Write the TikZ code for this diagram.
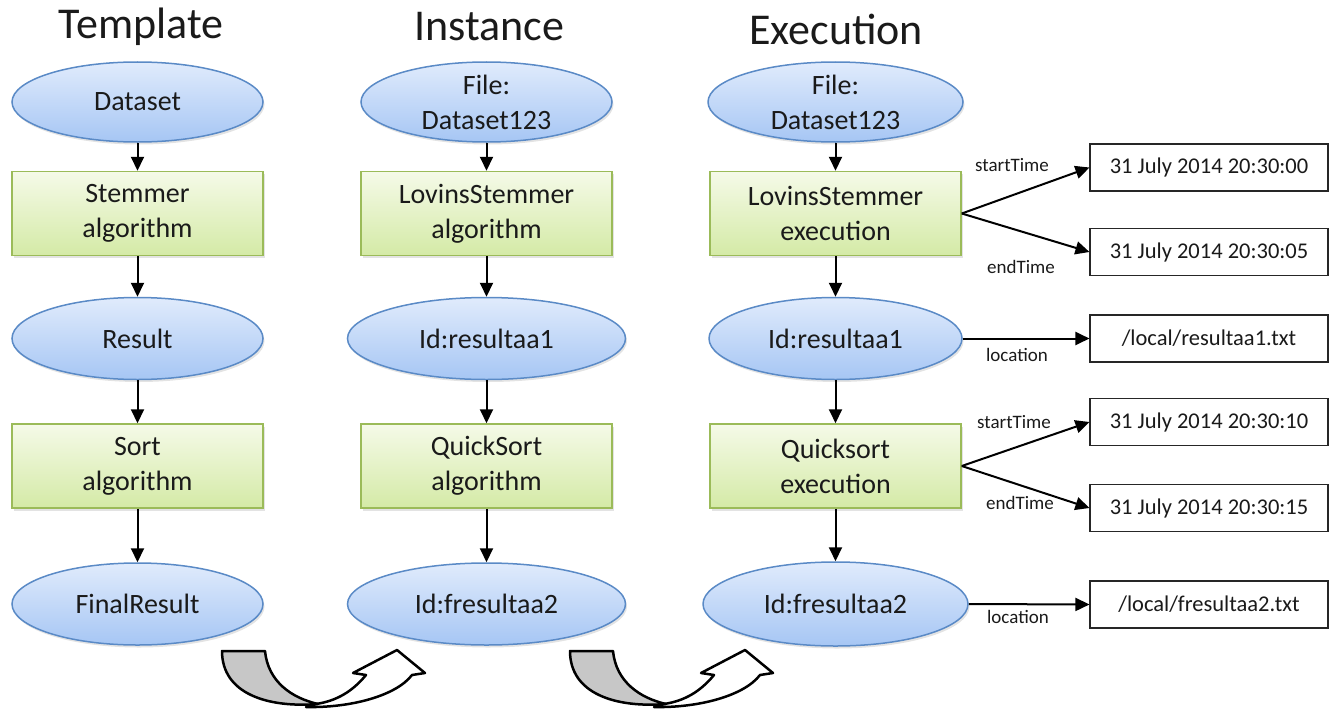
\documentclass[tikz,border=0pt]{standalone}
\usepackage{fontspec}
\setmainfont{Carlito}
\usetikzlibrary{shapes.geometric,arrows.meta,shadows}
\definecolor{ellborder}{HTML}{5A8AC6}
\definecolor{elltop}{HTML}{E0EBFC}
\definecolor{ellbot}{HTML}{A6C6F4}
\definecolor{recborder}{HTML}{9BBB59}
\definecolor{rectop}{HTML}{F5FAE8}
\definecolor{recbot}{HTML}{D4EAA6}
\definecolor{txt}{HTML}{1A1A1A}
\begin{document}
\begin{tikzpicture}[x=1pt,y=-1pt,
  ell/.style={ellipse, draw=ellborder, line width=1.5pt, top color=elltop, bottom color=ellbot,
    minimum width=251pt, minimum height=82pt, inner sep=0pt, align=center,
    font=\fontsize{28}{35}\selectfont, text=txt,
    drop shadow={opacity=0.22, shadow xshift=1.5pt, shadow yshift=-2.5pt}},
  recbox/.style={rectangle, draw=recborder, line width=1.5pt, top color=rectop, bottom color=recbot,
    minimum width=251pt, minimum height=84pt, inner sep=0pt, align=center,
    font=\fontsize{28}{35}\selectfont, text=txt,
    drop shadow={opacity=0.22, shadow xshift=1.5pt, shadow yshift=-2.5pt}},
  valbox/.style={rectangle, draw=black!85, line width=1.1pt, fill=white,
    minimum width=238pt, minimum height=47pt, inner sep=0pt,
    font=\fontsize{22.5}{27}\selectfont, text=txt},
  title/.style={font=\fontsize{44}{50}\selectfont, text=txt, inner sep=0pt},
  lbl/.style={font=\fontsize{19}{22}\selectfont, text=txt, inner sep=0pt},
  flow/.style={line width=2pt, -{Triangle[width=13pt,length=14pt]}},
  uarrow/.style={line width=2.5pt, line join=round, draw=black}
]
\useasboundingbox (0,0) rectangle (1332,709);

% titles
\node[title] (t1) at (141,27) {Template};
\node[title] (t2) at (489,27) {Instance};
\node[title] (t3) at (836,29) {Execution};

% column 1
\node[ell, minimum height=80pt] (d1) at (137.5,102) {Dataset};
\node[recbox] (s1) at (137.5,213.5) {Stemmer\\algorithm};
\node[ell] (r1) at (137.5,338.5) {Result};
\node[recbox] (so1) at (137.5,466) {Sort\\algorithm};
\node[ell] (f1) at (137.5,604) {FinalResult};

% column 2
\node[ell, minimum height=80pt] (d2) at (486.5,102) {File:\\Dataset123};
\node[recbox] (s2) at (486.5,213.5) {LovinsStemmer\\algorithm};
\node[ell, minimum width=278pt] (r2) at (486.5,338.5) {Id:resultaa1};
\node[recbox] (so2) at (486.5,466) {QuickSort\\algorithm};
\node[ell, minimum width=278pt] (f2) at (486.5,604) {Id:fresultaa2};

% column 3
\node[ell, minimum width=255pt, minimum height=80pt] (d3) at (835.5,102) {File:\\Dataset123};
\node[recbox] (s3) at (835.5,213.5) {LovinsStemmer\\execution};
\node[ell, minimum width=253pt] (r3) at (835.5,338.5) {Id:resultaa1};
\node[recbox] (so3) at (835.5,466) {Quicksort\\execution};
\node[ell, minimum width=265pt, minimum height=84pt] (f3) at (835.5,604) {Id:fresultaa2};

% vertical flows
\foreach \c in {1,2,3}{
  \draw[flow] (d\c) -- (s\c);
  \draw[flow] (s\c) -- (r\c);
  \draw[flow] (r\c) -- (so\c);
  \draw[flow] (so\c) -- (f\c);
}

% value boxes
\node[valbox] (b1) at (1209,167.5) {31 July 2014 20:30:00};
\node[valbox] (b2) at (1209,252) {31 July 2014 20:30:05};
\node[valbox] (b3) at (1209,338.5) {/local/resultaa1.txt};
\node[valbox] (b4) at (1209,422) {31 July 2014 20:30:10};
\node[valbox] (b5) at (1209,508) {31 July 2014 20:30:15};
\node[valbox] (b6) at (1209,604.5) {/local/fresultaa2.txt};

\draw[flow] (s3.east) -- (b1.west);
\draw[flow] (s3.east) -- (b2.west);
\draw[flow] (r3.east) -- (b3.west);
\draw[flow] (so3.east) -- (b4.west);
\draw[flow] (so3.east) -- (b5.west);
\draw[flow] (f3.east) -- (b6.west);

\node[lbl] (l1) at (1012,165) {startTime};
\node[lbl] (l2) at (1021,267) {endTime};
\node[lbl] (l3) at (1017,355) {location};
\node[lbl] (l4) at (1014,422) {startTime};
\node[lbl] (l5) at (1020,503) {endTime};
\node[lbl] (l6) at (1018,617) {location};

% curved transition arrows
\foreach \dx in {0,348}{
\begin{scope}[xshift=\dx pt]
  \path[uarrow, fill=black!22]
    (222,651) -- (265,651) .. controls (268,682) and (292,698) .. (318,704)
    .. controls (268,708) and (222,694) .. (222,651) -- cycle;
  \path[uarrow, fill=white]
    (306,707) .. controls (350,708) and (396,696) .. (412,675)
    -- (425,673) -- (397,650) -- (353,673) -- (366,675)
    .. controls (352,692) and (336,701) .. (316,704) -- cycle;
\end{scope}
}
\end{tikzpicture}
\end{document}
